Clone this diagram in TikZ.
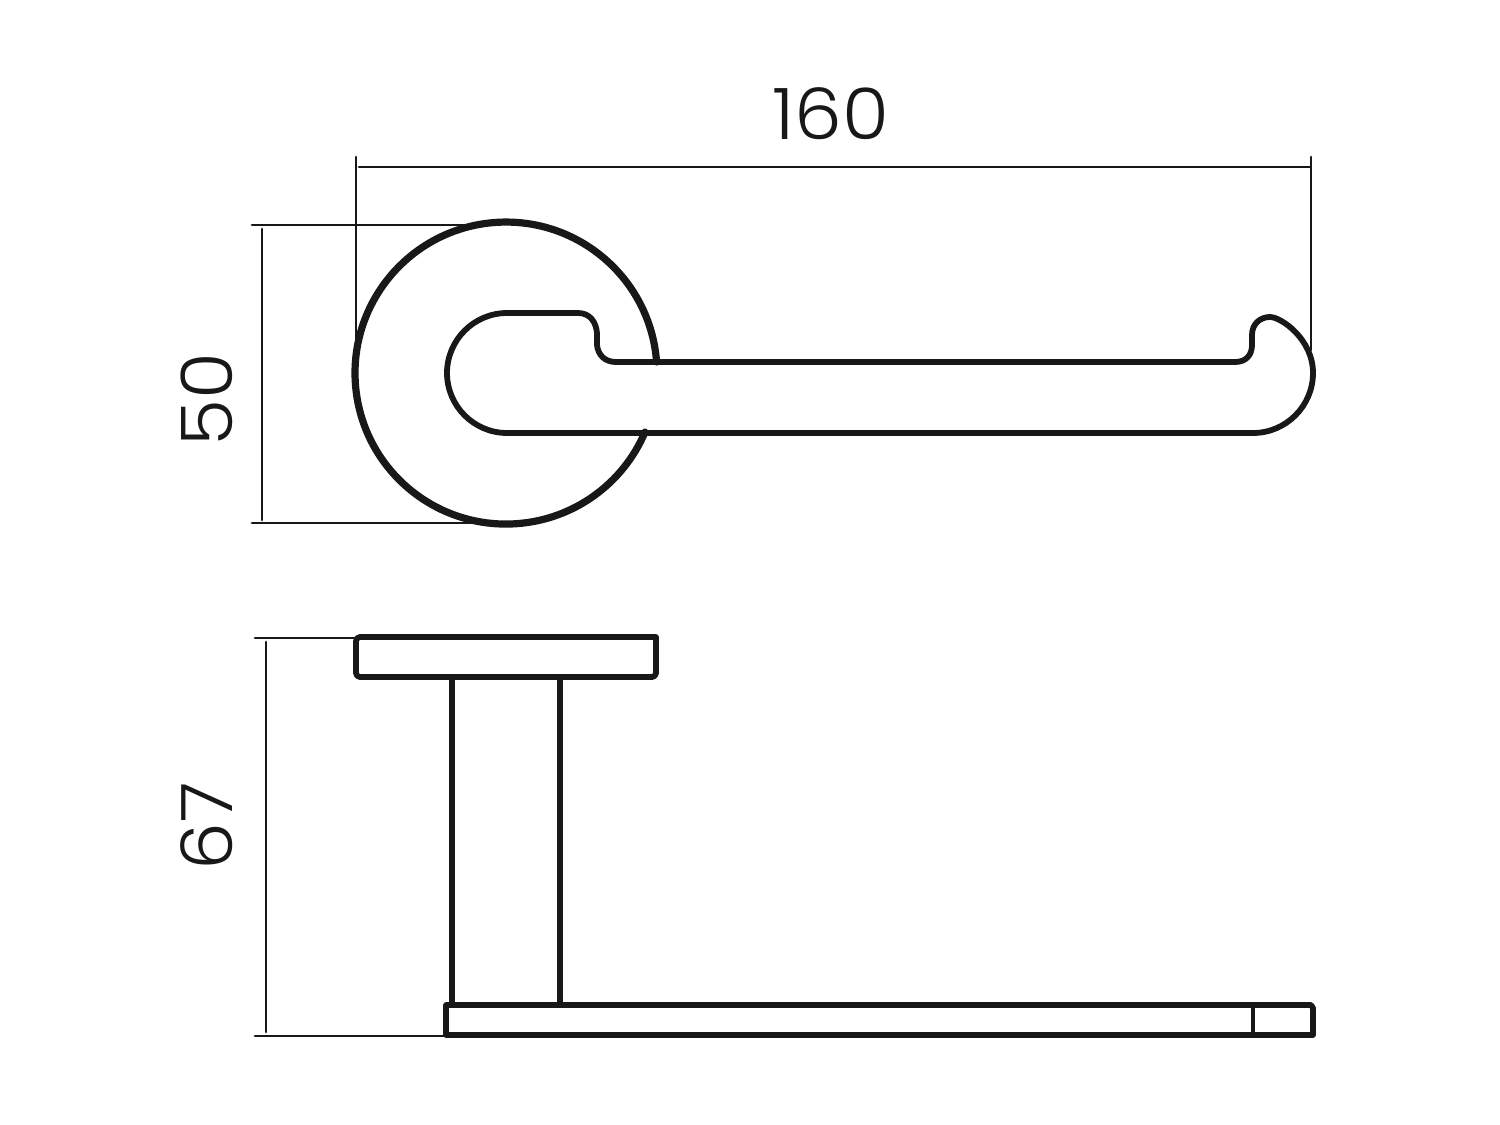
\documentclass[tikz,border=0pt]{standalone}
\usepackage{fontspec}
\setmainfont{Poppins}[UprightFont=* Light]
\definecolor{ink}{HTML}{1A1718}
\tikzset{
  outline/.style={draw=ink,line width=2.9pt,line join=round,line cap=round},
  heavy/.style={draw=ink,line width=3.6pt,line cap=round},
  dimline/.style={draw=ink,line width=1.4pt,line cap=round},
  dimtext/.style={text=ink,font=\fontsize{35.5}{35.5}\selectfont,inner sep=0pt,anchor=center}
}
\newcommand{\widedigits}[1]{\scalebox{1.07}[1]{#1}}
\begin{document}
\begin{tikzpicture}[x=0.5pt,y=-0.5pt]
\useasboundingbox (0,0) rectangle (1500,1125);
% dimension lines, front view
\draw[dimline] (356,157) -- (356,358);
\draw[dimline] (359,167) -- (1310,167);
\draw[dimline] (1311,157) -- (1311,350);
\draw[dimline] (252,225) -- (490,225);
\draw[dimline] (252,523) -- (490,523);
\draw[dimline] (262,229) -- (262,520);
% rose
\draw[heavy] (656.6,362) arc[start angle=-4.2,end angle=-337,radius=151,y radius=151];
% handle
\draw[outline] (507,313) -- (578,313)
  .. controls (590,313) and (596,322) .. (597,333)
  -- (597,345)
  .. controls (598,355) and (605,362) .. (616,362)
  -- (1235,362)
  .. controls (1246,362) and (1252,355) .. (1252,345)
  -- (1252,335)
  .. controls (1252,324) and (1260,317) .. (1270,317)
  .. controls (1281,317) and (1313,339) .. (1313,373)
  .. controls (1313,406) and (1286,433) .. (1253,433)
  -- (507,433)
  .. controls (474,433) and (447,406) .. (447,373)
  .. controls (447,340) and (474,313) .. (507,313) -- cycle;
% side view
\draw[dimline] (255,638) -- (355,638);
\draw[dimline] (255,1036) -- (445,1036);
\draw[dimline] (266,642) -- (266,1032);
\draw[outline] (356,637) -- (656,637) -- (656,673) [rounded corners=2pt] -- (656,677) -- (356,677) -- cycle;
\draw[outline] (452,678) -- (452,1004);
\draw[outline] (560,678) -- (560,1004);
\draw[outline] (446,1005) -- (1311,1005) -- (1313,1008) -- (1313,1035) -- (446,1035) -- cycle;
\draw[draw=ink,line width=2pt] (1253,1005) -- (1253,1035);
% labels
\node[dimtext] (w) at (831,114) {\widedigits{160}};
\node[dimtext,rotate=90] (h) at (207,400) {\widedigits{50}};
\node[dimtext,rotate=90] (l) at (207,826) {\widedigits{67}};
\end{tikzpicture}
\end{document}
